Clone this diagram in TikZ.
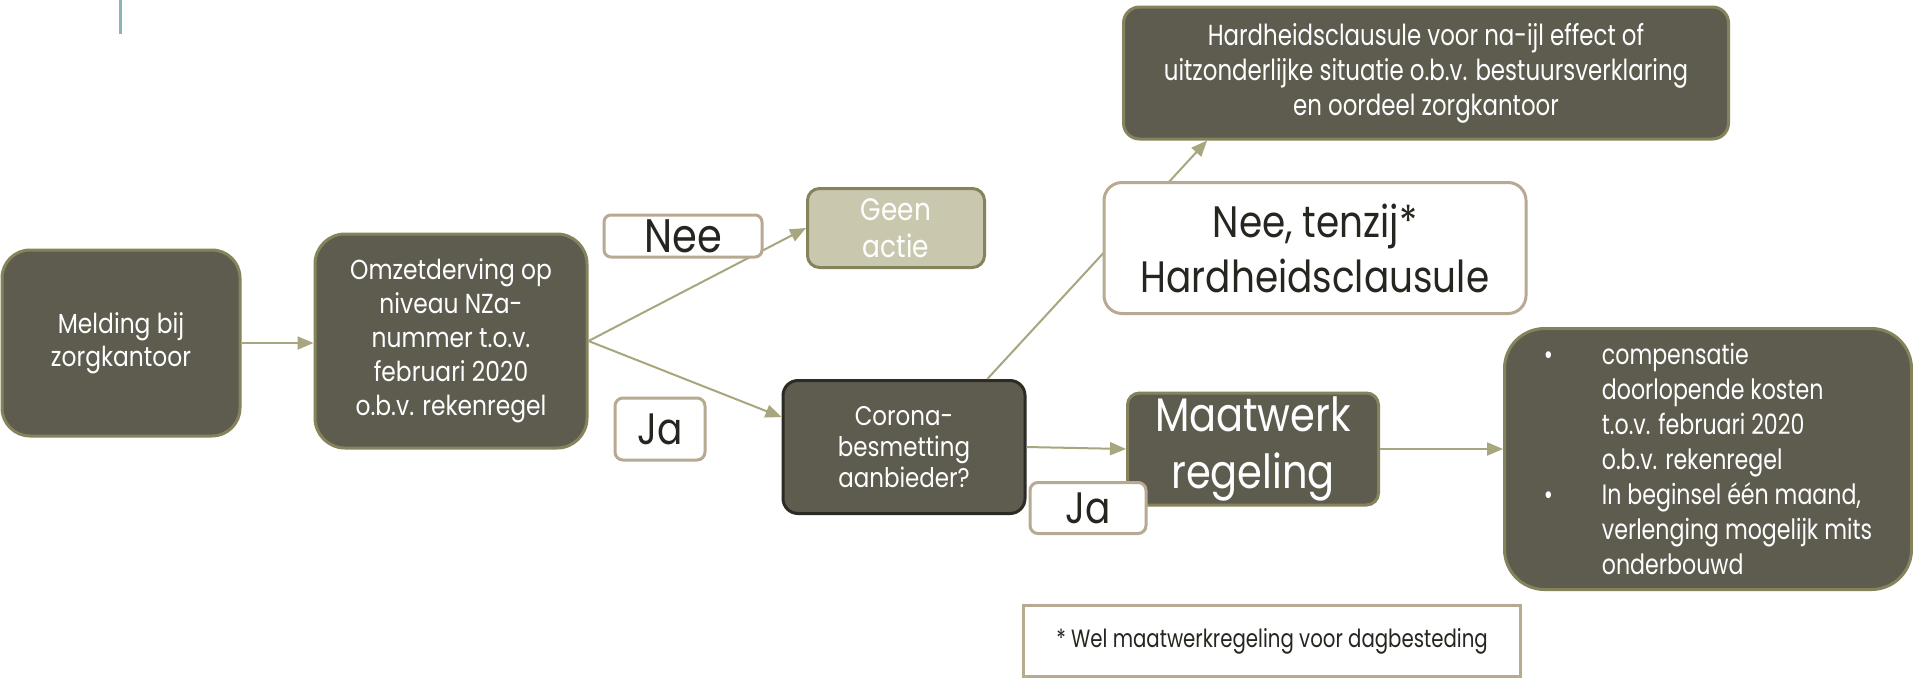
\documentclass[tikz,border=0pt]{standalone}
\usepackage{fontspec}
\setmainfont{Poppins}
\newfontfamily\mainf[FakeStretch=0.85]{Poppins}
\newfontfamily\condf[FakeStretch=0.79]{Poppins}
\usetikzlibrary{arrows.meta,calc}
\definecolor{darkfill}{RGB}{94,91,79}
\definecolor{olive}{RGB}{133,131,92}
\definecolor{khaki}{RGB}{168,166,126}
\definecolor{lightfill}{RGB}{201,200,175}
\definecolor{tanedge}{RGB}{184,169,146}
\definecolor{darkedge}{RGB}{45,44,36}
\definecolor{labeltext}{RGB}{38,37,31}
\definecolor{tealline}{RGB}{140,180,180}
\begin{document}
\begin{tikzpicture}[x=1pt,y=-1pt,
  darkbox/.style={draw=olive, line width=3pt, fill=darkfill, text=white, align=center, inner sep=0pt},
  labelbox/.style={draw=tanedge, line width=3pt, fill=white, text=labeltext, align=center, inner sep=0pt},
  conn/.style={draw=khaki, line width=2pt, -{Triangle[length=16pt,width=13pt]}}
]
\useasboundingbox (0,0) rectangle (1913,678);
\fill[white] (0,0) rectangle (1913,678);
\draw[tealline, line width=3pt] (120,0) -- (120,34);

\node[darkbox, rounded corners=28pt, minimum width=238pt, minimum height=186pt,
      font={\mainf\fontsize{27.5}{33}\selectfont}] (melding) at (121,343) {Melding bij\\zorgkantoor};
\node[darkbox, rounded corners=30pt, minimum width=272pt, minimum height=214pt,
      font={\mainf\fontsize{27.5}{34}\selectfont}] (omzet) at (451,341)
      {Omzetderving op\\niveau NZa-\\nummer t.o.v.\\februari 2020\\o.b.v. rekenregel};
\node[darkbox, fill=lightfill, rounded corners=12pt, minimum width=177pt, minimum height=79pt,
      font={\mainf\fontsize{31}{37}\selectfont}] (geen) at (896,228) {Geen\\actie};
\node[darkbox, draw=darkedge, rounded corners=15pt, minimum width=242pt, minimum height=133pt,
      font={\mainf\fontsize{27}{31}\selectfont}] (corona) at (904,447) {Corona-\\besmetting\\aanbieder?};
\node[darkbox, rounded corners=16pt, minimum width=605pt, minimum height=132pt,
      font={\condf\fontsize{29}{35}\selectfont}] (hard) at (1426,73)
      {Hardheidsclausule voor na-ijl effect of\\uitzonderlijke situatie o.b.v. bestuursverklaring\\en oordeel zorgkantoor};
\node[darkbox, rounded corners=12pt, minimum width=251pt, minimum height=112pt,
      font={\mainf\fontsize{47}{57}\selectfont}] (maat) at (1253,449) {Maatwerk\\regeling};
\node[darkbox, rounded corners=40pt, minimum width=407pt, minimum height=261pt,
      align=left,
      font={\condf\fontsize{28}{35}\selectfont}] (comp) at (1708,459)
      {\makebox[58pt][l]{\textbullet}compensatie\\
       \hspace*{58pt}doorlopende kosten\\
       \hspace*{58pt}t.o.v. februari 2020\\
       \hspace*{58pt}o.b.v. rekenregel\\
       \makebox[58pt][l]{\textbullet}In beginsel één maand,\\
       \hspace*{58pt}verlenging mogelijk mits\\
       \hspace*{58pt}onderbouwd};

\draw[conn] (melding.east) -- (melding.east -| omzet.west);
\draw[conn] (omzet.east) -- (geen.west);
\draw[conn] (omzet.east) -- ($(corona.north west)!0.28!(corona.south west)$);
\draw[conn] ($(corona.north west)!0.84!(corona.north east)$) -- ($(hard.south west)!0.14!(hard.south east)$);
\draw[conn] (corona.east) -- (maat.west);
\draw[conn] (maat.east) -- (maat.east -| comp.west);

\node[labelbox, rounded corners=7pt, minimum width=158pt, minimum height=42pt,
      font={\mainf\fontsize{47}{50}\selectfont}] (nee) at (683,236) {Nee};
\node[labelbox, rounded corners=8pt, minimum width=90pt, minimum height=62pt,
      font={\mainf\fontsize{44}{50}\selectfont}] (ja1) at (660,429) {Ja};
\node[labelbox, rounded corners=18pt, minimum width=422pt, minimum height=131pt,
      font={\mainf\fontsize{44}{55}\selectfont}] (tenzij) at (1315,248) {Nee, tenzij*\\Hardheidsclausule};
\node[labelbox, rounded corners=8pt, minimum width=116pt, minimum height=51pt,
      font={\mainf\fontsize{44}{50}\selectfont}] (ja2) at (1088,508) {Ja};
\node[labelbox, rounded corners=0pt, minimum width=497pt, minimum height=71pt,
      font={\condf\fontsize{25}{28}\selectfont}] (foot) at (1272,641) {* Wel maatwerkregeling voor dagbesteding};
\end{tikzpicture}
\end{document}
